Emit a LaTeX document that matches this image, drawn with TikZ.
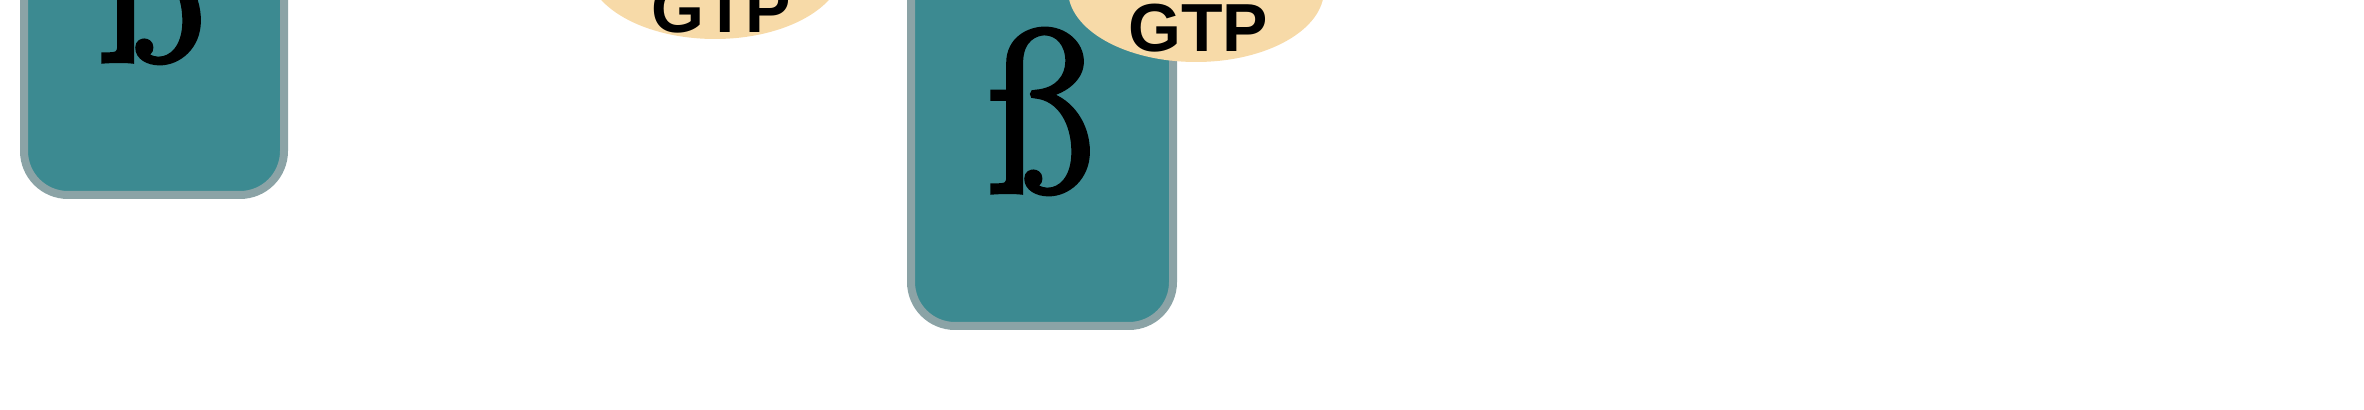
\documentclass[tikz,border=0pt]{standalone}
\usepackage{fontspec}
\newfontfamily\gtpfont{Liberation Sans}
\newfontfamily\sharpsfont{Latin Modern Roman}[FakeBold=2.2]
\usetikzlibrary{shapes.geometric}
\definecolor{tealbody}{RGB}{60,138,145}
\definecolor{rimgray}{RGB}{139,163,166}
\definecolor{gtpbeige}{RGB}{247,218,168}
\tikzset{
  subunit/.style={rectangle, rounded corners=22pt, fill=tealbody, draw=rimgray,
    line width=4pt, minimum width=130pt, minimum height=213pt, inner sep=0pt},
  gtpdisc/.style={ellipse, fill=gtpbeige, minimum width=128pt, minimum height=72pt, inner sep=0pt},
  gtplabel/.style={font=\gtpfont\bfseries\fontsize{34}{34}\selectfont, anchor=base, inner sep=0pt},
  betalabel/.style={font=\sharpsfont\fontsize{116}{116}\selectfont, anchor=base, inner sep=0pt}
}
\begin{document}
\begin{tikzpicture}[x=0.5pt,y=-0.5pt]
\useasboundingbox (0,0) rectangle (2364,410);
\clip (0,0) rectangle (2364,410);
\node[subunit] (b1) at (154,-18) {};
\node[betalabel] (s1) at (150,61) {ß};
\node[gtpdisc] (g1) at (715,-33) {};
\node[gtplabel] (t1) at (721,33) {GTP};
\node[subunit, minimum width=131pt] (b2) at (1042,113) {};
\node[betalabel] (s2) at (1039,192) {ß};
\node[gtpdisc] (g2) at (1196,-10) {};
\node[gtplabel] (t2) at (1198,52) {GTP};
\end{tikzpicture}
\end{document}
